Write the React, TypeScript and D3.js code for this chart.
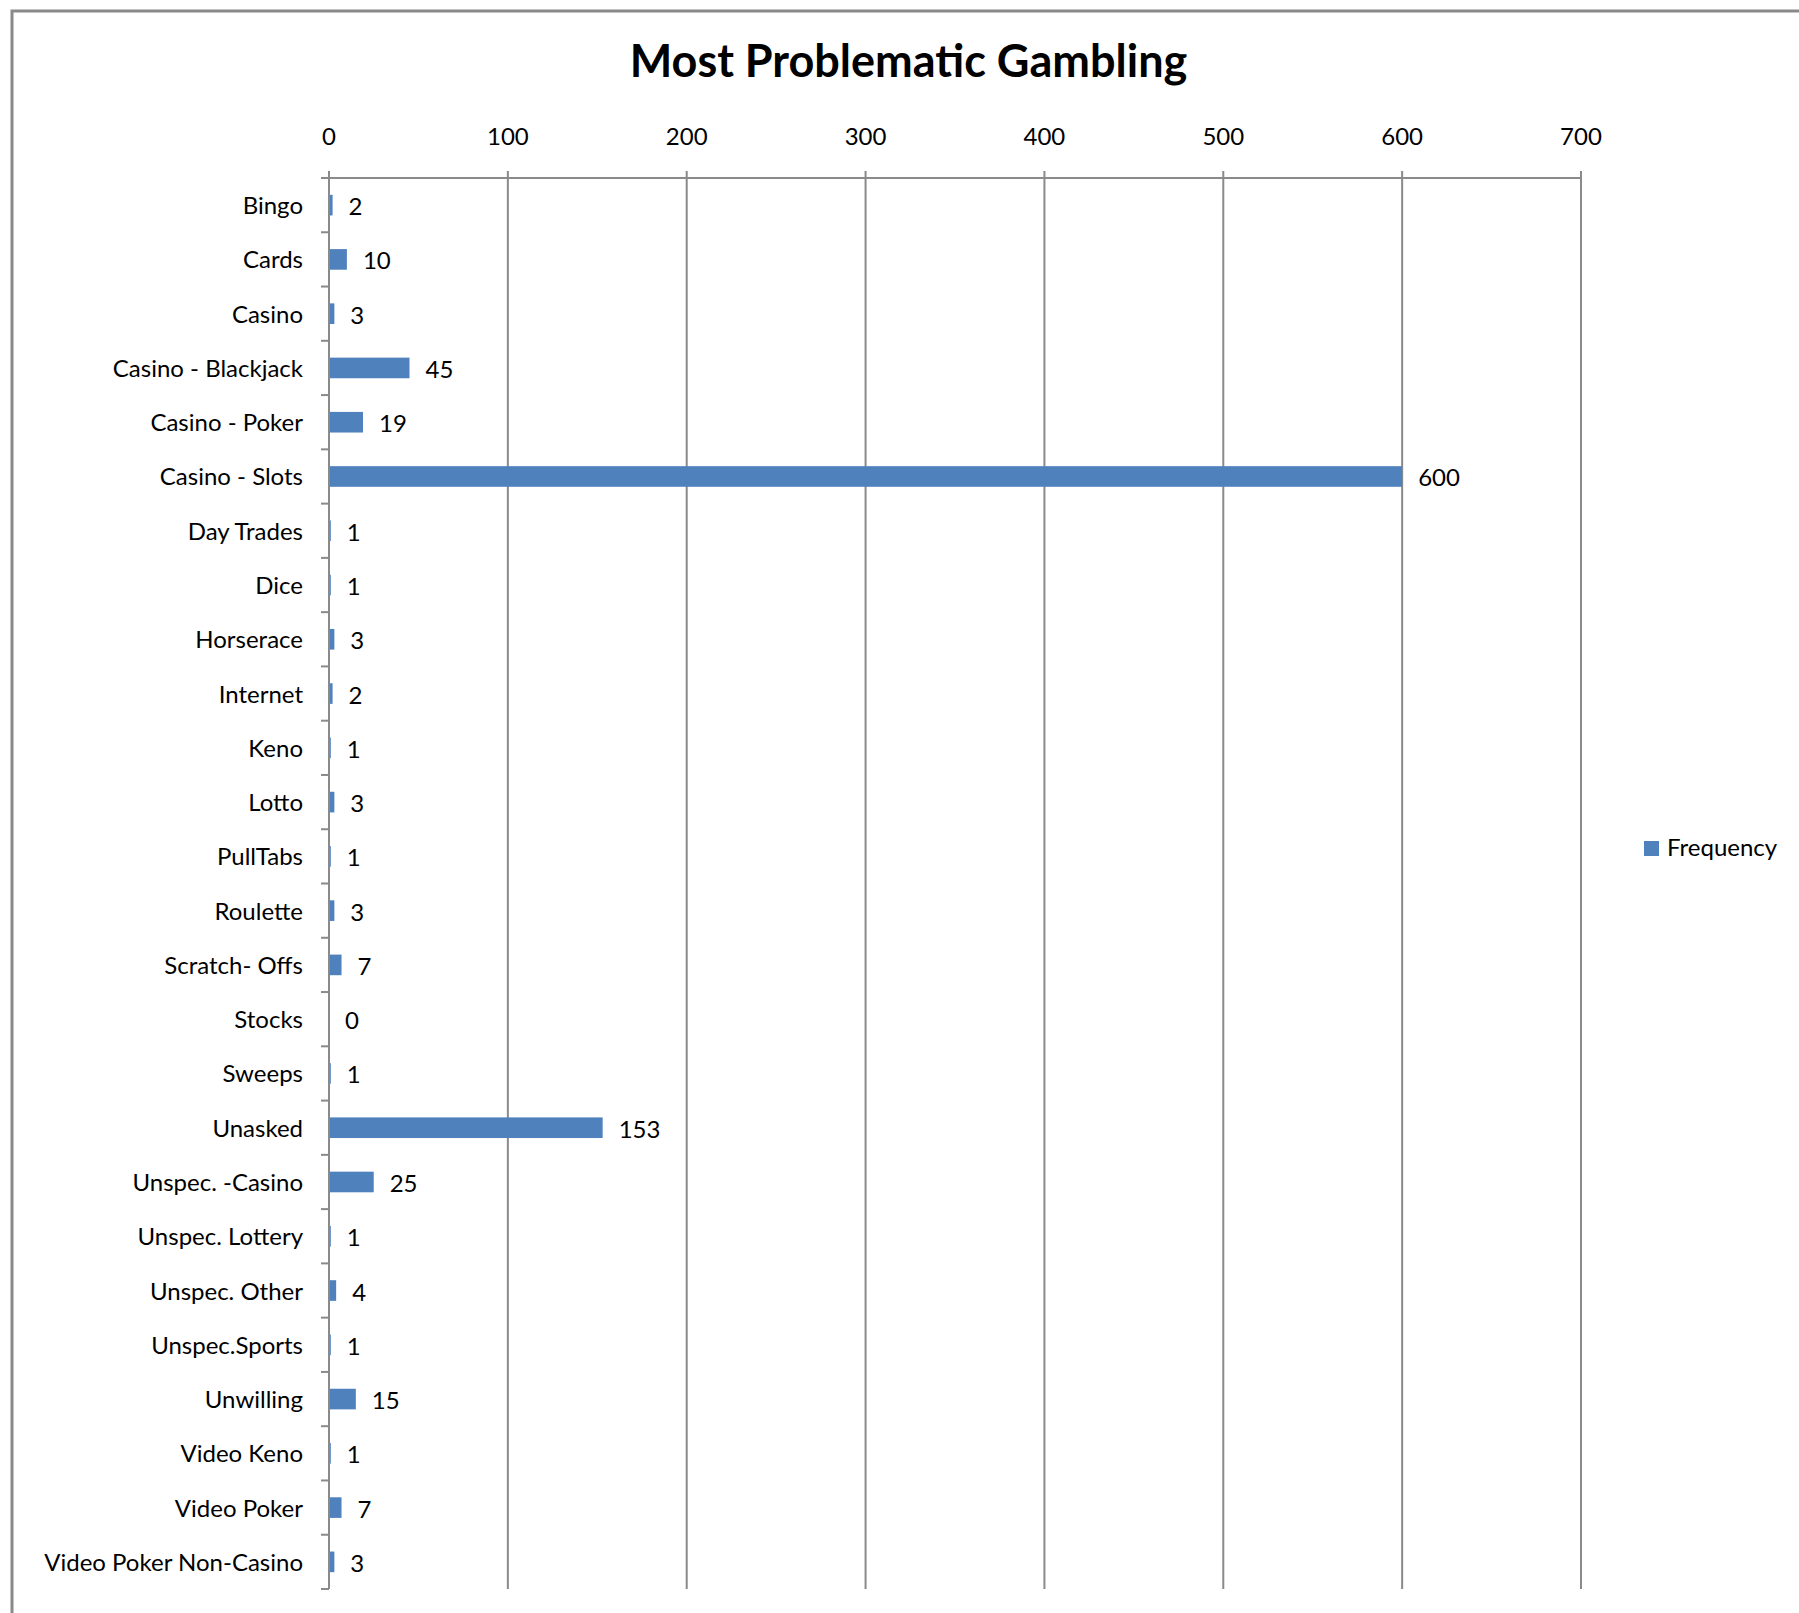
import * as d3 from 'd3';
import * as React from 'react';

const { useRef, useEffect } = React;

const width = 1799;
const height = 1613;
const margin = { top: 178, right: 218, bottom: 24, left: 329 };

const title = 'Most Problematic Gambling';
const seriesName = 'Frequency';

const categories = [
  'Bingo',
  'Cards',
  'Casino',
  'Casino - Blackjack',
  'Casino - Poker',
  'Casino - Slots',
  'Day Trades',
  'Dice',
  'Horserace',
  'Internet',
  'Keno',
  'Lotto',
  'PullTabs',
  'Roulette',
  'Scratch- Offs',
  'Stocks',
  'Sweeps',
  'Unasked',
  'Unspec. -Casino',
  'Unspec. Lottery',
  'Unspec. Other',
  'Unspec.Sports',
  'Unwilling',
  'Video Keno',
  'Video Poker',
  'Video Poker Non-Casino',
];

const frequency = [
  2, 10, 3, 45, 19, 600, 1, 1, 3, 2, 1, 3, 1, 3, 7, 0, 1, 153, 25, 1, 4, 1, 15,
  1, 7, 3,
];

const xTicks = [0, 100, 200, 300, 400, 500, 600, 700];

const barColor = '#4f81bd';
const gridColor = '#8a8a8a';
const font = 'Lato, "Open Sans", sans-serif';

export default () => {
  const rootRef = useRef<SVGSVGElement>(null);

  useEffect(() => {
    const rootEl = rootRef.current;
    if (!rootEl) {
      return;
    }

    const svg = d3.select(rootEl);
    svg.selectAll('*').remove();

    const x = d3
      .scaleLinear()
      .domain([0, 700])
      .range([margin.left, width - margin.right]);

    const y = d3
      .scaleBand<string>()
      .domain(categories)
      .range([margin.top, height - margin.bottom])
      .padding(0);

    const barH = y.bandwidth() * 0.38;

    // chart frame (only top and left edges show)
    svg
      .append('rect')
      .attr('x', 12)
      .attr('y', 11)
      .attr('width', width + 20)
      .attr('height', height + 20)
      .attr('fill', 'none')
      .attr('stroke', '#898989')
      .attr('stroke-width', 3);

    svg
      .append('text')
      .attr('x', width / 2 + 9)
      .attr('y', 77)
      .attr('text-anchor', 'middle')
      .attr('font-family', font)
      .attr('font-weight', 'bold')
      .attr('font-size', 45)
      .attr('fill', '#000')
      .text(title);

    // vertical gridlines with short ticks above the axis
    svg
      .append('g')
      .selectAll('line')
      .data(xTicks)
      .join('line')
      .attr('x1', d => x(d))
      .attr('x2', d => x(d))
      .attr('y1', margin.top - 7)
      .attr('y2', height - margin.bottom)
      .attr('stroke', gridColor)
      .attr('stroke-width', 2);

    // top axis line
    svg
      .append('line')
      .attr('x1', x(0) - 8)
      .attr('x2', x(700))
      .attr('y1', margin.top)
      .attr('y2', margin.top)
      .attr('stroke', gridColor)
      .attr('stroke-width', 2);

    svg
      .append('g')
      .selectAll('text')
      .data(xTicks)
      .join('text')
      .attr('x', d => x(d))
      .attr('y', margin.top - 33)
      .attr('text-anchor', 'middle')
      .attr('font-family', font)
      .attr('font-size', 24)
      .attr('fill', '#000')
      .text(d => d);

    // left axis with ticks at category boundaries
    const bounds = categories
      .map(c => y(c) as number)
      .concat(height - margin.bottom);

    svg
      .append('g')
      .selectAll('line')
      .data(bounds)
      .join('line')
      .attr('x1', x(0) - 8)
      .attr('x2', x(0))
      .attr('y1', d => d)
      .attr('y2', d => d)
      .attr('stroke', gridColor)
      .attr('stroke-width', 2);

    svg
      .append('line')
      .attr('x1', x(0))
      .attr('x2', x(0))
      .attr('y1', margin.top)
      .attr('y2', height - margin.bottom)
      .attr('stroke', gridColor)
      .attr('stroke-width', 2);

    const rows = categories.map((name, i) => ({ name, value: frequency[i] }));

    svg
      .append('g')
      .selectAll('rect')
      .data(rows)
      .join('rect')
      .attr('x', x(0) + 1)
      .attr('y', d => (y(d.name) as number) + (y.bandwidth() - barH) / 2)
      .attr('width', d => Math.max(0, x(d.value) - x(0) - 1))
      .attr('height', barH)
      .attr('fill', barColor);

    svg
      .append('g')
      .selectAll('text')
      .data(rows)
      .join('text')
      .attr('x', x(0) - 26)
      .attr('y', d => (y(d.name) as number) + y.bandwidth() / 2 + 9)
      .attr('text-anchor', 'end')
      .attr('font-family', font)
      .attr('font-size', 24)
      .attr('fill', '#000')
      .text(d => d.name);

    svg
      .append('g')
      .selectAll('text')
      .data(rows)
      .join('text')
      .attr('x', d => x(d.value) + 16)
      .attr('y', d => (y(d.name) as number) + y.bandwidth() / 2 + 10)
      .attr('font-family', font)
      .attr('font-size', 24)
      .attr('fill', '#000')
      .text(d => d.value);

    // legend
    const legend = svg.append('g').attr('transform', 'translate(1644,841)');
    legend
      .append('rect')
      .attr('width', 15)
      .attr('height', 15)
      .attr('fill', barColor);
    legend
      .append('text')
      .attr('x', 23)
      .attr('y', 15)
      .attr('font-family', font)
      .attr('font-size', 24)
      .attr('fill', '#000')
      .text(seriesName);
  }, []);

  return (
    <svg
      ref={rootRef}
      width={width}
      height={height}
      style={{ position: 'absolute', left: 0, top: 0, background: '#fff' }}
    />
  );
};
